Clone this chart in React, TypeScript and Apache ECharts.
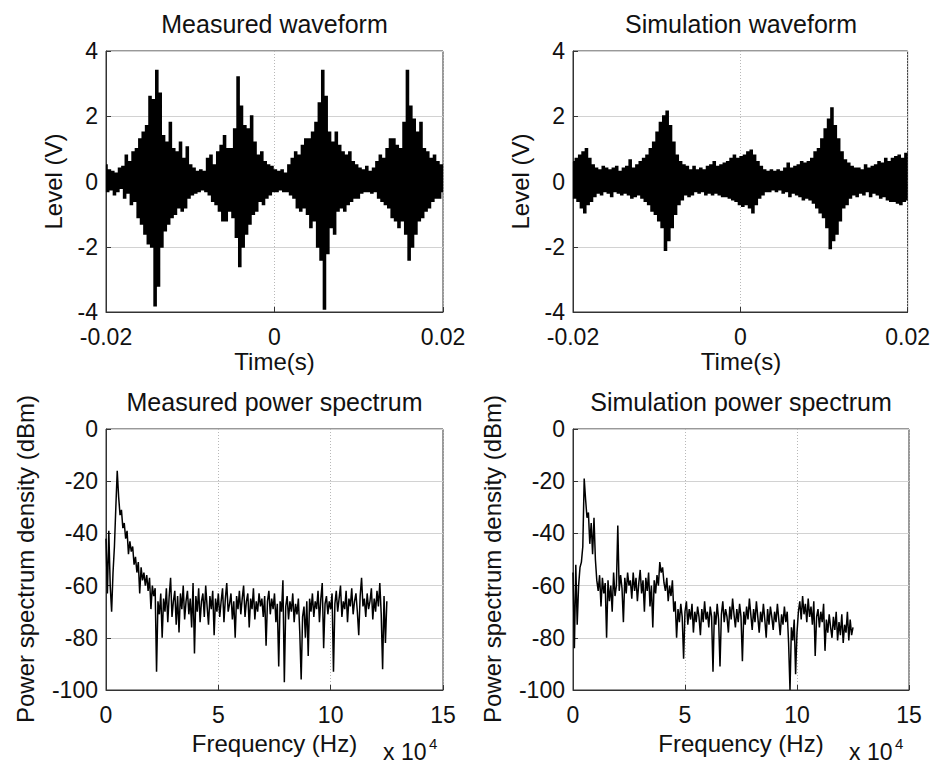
import React, { useEffect, useRef } from "react";
import * as echarts from "echarts";

// ---- Data ----
const titles = [
  "Measured waveform",
  "Simulation waveform",
  "Measured power spectrum",
  "Simulation power spectrum",
];

// Waveforms: samples from -0.02 s to 0.02 s, evenly spaced (V)
const waveTimeStart = -0.02;
const waveTimeEnd = 0.02;

const measuredWave = [
  0.5, -0.3, 0.35, -0.25, 0.3, -0.4, 0.25, -0.3, 0.4, -0.2,
  0.45, -0.5, 0.8, -0.35, 0.6, -0.7, 0.9, -0.6, 1.0, -1.1,
  1.3, -1.3, 1.5, -1.6, 1.7, -1.9, 2.6, -2.0, 2.5, -3.8,
  3.4, -3.2, 2.7, -2.0, 1.4, -1.5, 1.2, -1.3, 1.8, -1.1,
  1.0, -1.0, 0.9, -0.8, 1.2, -0.9, 0.7, -0.8, 1.05, -0.5,
  0.5, -0.4, 0.4, -0.35, 0.3, -0.3, 0.35, -0.25, 0.3, -0.3,
  0.7, -0.4, 0.8, -0.6, 0.5, -0.7, 0.9, -0.9, 1.1, -1.2,
  1.4, -1.2, 1.0, -0.9, 1.0, -1.1, 1.6, -1.7, 3.2, -2.6,
  2.3, -2.0, 1.7, -1.6, 1.6, -1.3, 2.0, -1.0, 1.2, -0.9,
  0.8, -0.6, 0.9, -0.7, 0.6, -0.5, 0.5, -0.4, 0.45, -0.3,
  0.35, -0.3, 0.3, -0.25, 0.35, -0.3, 0.25, -0.3, 0.5, -0.4,
  0.7, -0.5, 0.9, -0.8, 0.8, -0.9, 1.1, -0.8, 1.3, -1.0,
  1.3, -1.4, 1.5, -1.2, 1.8, -2.0, 2.4, -2.4, 3.4, -3.9,
  2.6, -2.2, 1.5, -1.4, 1.2, -1.6, 1.5, -0.9, 1.1, -0.8,
  0.9, -0.9, 0.8, -0.7, 0.9, -0.6, 0.6, -0.5, 0.5, -0.5,
  0.4, -0.35, 0.35, -0.3, 0.45, -0.3, 0.3, -0.35, 0.4, -0.3,
  0.6, -0.5, 0.8, -0.6, 0.7, -0.7, 1.0, -0.8, 1.3, -1.1,
  1.3, -1.2, 1.1, -1.4, 1.0, -1.2, 1.8, -1.6, 3.4, -2.4,
  2.3, -2.0, 1.9, -1.6, 1.5, -1.2, 1.8, -1.1, 1.0, -0.9,
  0.9, -0.8, 0.7, -0.6, 0.8, -0.5, 0.6, -0.5, 0.5, -0.3,
];

const simulationWave = [
  0.6, -0.5, 0.7, -0.6, 0.8, -0.8, 0.9, -0.95, 1.0, -0.7,
  0.7, -0.6, 0.5, -0.45, 0.4, -0.35, 0.35, -0.4, 0.45, -0.3,
  0.4, -0.35, 0.35, -0.45, 0.4, -0.3, 0.45, -0.35, 0.3, -0.4,
  0.4, -0.35, 0.45, -0.4, 0.65, -0.5, 0.4, -0.45, 0.5, -0.4,
  0.6, -0.5, 0.7, -0.6, 0.8, -0.7, 1.0, -0.9, 1.2, -1.0,
  1.5, -1.2, 1.8, -1.4, 2.0, -2.1, 2.15, -1.8, 1.7, -1.4,
  1.2, -1.0, 0.8, -0.7, 0.6, -0.55, 0.5, -0.4, 0.45, -0.45,
  0.35, -0.4, 0.45, -0.3, 0.35, -0.35, 0.4, -0.3, 0.35, -0.4,
  0.45, -0.35, 0.5, -0.4, 0.6, -0.35, 0.45, -0.4, 0.5, -0.45,
  0.55, -0.45, 0.6, -0.5, 0.7, -0.55, 0.8, -0.6, 0.7, -0.7,
  0.75, -0.75, 0.8, -0.7, 0.9, -0.8, 0.95, -0.95, 0.8, -0.7,
  0.6, -0.5, 0.45, -0.4, 0.35, -0.3, 0.3, -0.3, 0.35, -0.25,
  0.3, -0.3, 0.35, -0.25, 0.3, -0.35, 0.4, -0.3, 0.55, -0.45,
  0.4, -0.35, 0.45, -0.4, 0.5, -0.45, 0.6, -0.55, 0.55, -0.5,
  0.6, -0.55, 0.7, -0.65, 0.9, -0.8, 1.0, -0.95, 1.3, -1.1,
  1.6, -1.4, 1.9, -2.05, 2.25, -1.8, 1.7, -1.6, 1.3, -1.2,
  0.9, -0.8, 0.65, -0.7, 0.55, -0.5, 0.45, -0.4, 0.4, -0.45,
  0.4, -0.35, 0.35, -0.4, 0.5, -0.3, 0.4, -0.45, 0.45, -0.35,
  0.5, -0.4, 0.6, -0.5, 0.55, -0.45, 0.7, -0.55, 0.6, -0.6,
  0.7, -0.6, 0.75, -0.65, 0.8, -0.7, 0.7, -0.6, 0.85, -0.55,
];

// Spectra: samples every 0.0625 x 10^4 Hz from 0 (dBm)
const spectrumStep = 0.0625;

const measuredSpectrum = [
  -42, -63, -39, -60, -70, -55, -45, -30, -16, -26,
  -33, -31, -38, -36, -42, -39, -48, -43, -47, -45,
  -52, -49, -55, -51, -63, -53, -58, -55, -60, -56,
  -62, -57, -69, -60, -64, -61, -93, -66, -71, -63,
  -80, -65, -70, -61, -74, -64, -57, -72, -66, -62,
  -75, -64, -78, -63, -69, -60, -73, -66, -62, -71,
  -65, -76, -59, -86, -64, -70, -61, -74, -66, -63,
  -72, -60, -68, -75, -64, -69, -62, -79, -65, -70,
  -63, -72, -66, -61, -74, -65, -59, -70, -67, -63,
  -73, -66, -80, -64, -69, -62, -71, -65, -60, -72,
  -66, -63, -76, -65, -69, -61, -73, -66, -70, -63,
  -68, -65, -72, -64, -83, -66, -62, -71, -65, -69,
  -63, -74, -67, -91, -66, -70, -58, -97, -68, -64,
  -73, -66, -70, -63, -74, -67, -71, -65, -78, -96,
  -72, -68, -80, -66, -87, -65, -70, -63, -72, -66,
  -69, -62, -74, -65, -59, -84, -67, -64, -71, -66,
  -69, -63, -93, -67, -62, -70, -65, -60, -72, -66,
  -69, -62, -74, -65, -68, -61, -71, -66, -63, -70,
  -79, -64, -57, -68, -65, -72, -63, -69, -66, -61,
  -73, -65, -70, -62, -68, -59, -71, -92, -64, -82,
  -66,
];

const simulationSpectrum = [
  -55, -84, -52, -75, -60, -53, -51, -45, -19, -27,
  -34, -32, -44, -36, -48, -34, -50, -58, -62, -56,
  -68, -57, -63, -59, -80, -58, -66, -60, -70, -55,
  -64, -60, -37, -62, -56, -61, -74, -57, -63, -55,
  -60, -58, -65, -55, -62, -57, -66, -59, -54, -63,
  -58, -70, -57, -62, -55, -68, -60, -76, -58, -63,
  -56, -60, -51, -55, -53, -59, -62, -57, -66, -60,
  -64, -58, -70, -66, -80, -69, -74, -67, -72, -88,
  -70, -66, -75, -69, -73, -67, -78, -70, -74, -68,
  -72, -79, -69, -74, -66, -73, -70, -76, -68, -72,
  -93, -70, -75, -67, -73, -91, -71, -66, -74, -69,
  -72, -78, -68, -73, -65, -71, -76, -69, -74, -67,
  -72, -89, -70, -75, -68, -73, -65, -71, -77, -69,
  -74, -66, -72, -78, -70, -74, -67, -73, -80, -69,
  -75, -68, -72, -77, -70, -74, -67, -73, -79, -71,
  -75, -68, -74, -70, -82, -100, -76, -81, -73, -94,
  -78, -70, -66, -73, -64, -71, -67, -74, -65, -72,
  -68, -75, -66, -87, -72, -69, -76, -70, -74, -67,
  -85, -73, -78, -71, -76, -80, -72, -77, -70, -81,
  -74, -79, -71, -82, -75, -78, -70, -81, -73, -79,
  -76,
];

const waveYTicks = { min: -4, max: 4, interval: 2 };
const waveXTicks = { min: -0.02, max: 0.02, interval: 0.02 };
const specYTicks = { min: -100, max: 0, interval: 20 };
const specXTicks = { min: 0, max: 15, interval: 5 };

const axisLabels = {
  waveX: "Time(s)",
  waveY: "Level (V)",
  specX: "Frequency (Hz)",
  specY: "Power spectrum density (dBm)",
  specXExponentBase: "x 10",
  specXExponent: "4",
};

// ---- Layout / style ----
const FONT = "'Liberation Sans', Arial, Helvetica, sans-serif";
const grids = [
  { left: 106, top: 51, width: 337, height: 261 },
  { left: 573, top: 51, width: 336, height: 261 },
  { left: 106, top: 429, width: 337, height: 261 },
  { left: 573, top: 429, width: 336, height: 261 },
];

function fmtNum(v: number): string {
  if (Math.abs(v) < 1e-9) return "0";
  return String(parseFloat(v.toFixed(4)));
}

export default function App() {
  const ref = useRef<HTMLDivElement>(null);

  useEffect(() => {
    if (!ref.current) return;
    const chart = echarts.init(ref.current, undefined, { renderer: "svg" });

    const waveDt = (waveTimeEnd - waveTimeStart) / (measuredWave.length - 1);
    const waveSeriesData = (arr: number[]) =>
      arr.map((v, i) => [waveTimeStart + i * waveDt, v]);
    const specSeriesData = (arr: number[]) =>
      arr.map((v, i) => [i * spectrumStep, v]);

    const mkX = (gi: number, t: { min: number; max: number; interval: number }) => ({
      type: "value",
      gridIndex: gi,
      min: t.min,
      max: t.max,
      interval: t.interval,
      position: "bottom",
      axisLine: { show: true, onZero: false, lineStyle: { color: "#333", width: 1 } },
      axisTick: { show: true, inside: true, length: 5, lineStyle: { color: "#333" } },
      axisLabel: {
        color: "#111",
        fontSize: 23,
        lineHeight: 18,
        fontFamily: FONT,
        margin: 16,
        formatter: (v: number) => fmtNum(v),
      },
      splitLine: { show: true, lineStyle: { color: "#b8b8b8", type: [1, 2], width: 1 } },
    });
    const mkY = (gi: number, t: { min: number; max: number; interval: number }) => ({
      type: "value",
      gridIndex: gi,
      min: t.min,
      max: t.max,
      interval: t.interval,
      position: "left",
      axisLine: { show: true, onZero: false, lineStyle: { color: "#333", width: 1 } },
      axisTick: { show: true, inside: true, length: 5, lineStyle: { color: "#333" } },
      axisLabel: {
        color: "#111",
        fontSize: 23,
        lineHeight: 18,
        fontFamily: FONT,
        margin: 8,
        formatter: (v: number) => fmtNum(v),
      },
      splitLine: { show: true, lineStyle: { color: "#d2d2d2", width: 1 } },
    });

    const lineSeries = (
      gi: number,
      data: number[][],
      width: number,
      step: false | "middle"
    ) => ({
      type: "line",
      xAxisIndex: gi,
      yAxisIndex: gi,
      data,
      step,
      showSymbol: false,
      symbol: "none",
      silent: true,
      lineStyle: { color: "#000", width, join: "miter" },
      z: 3,
    });

    const textEl = (
      text: string,
      x: number,
      y: number,
      size: number,
      rotation = 0,
      align = "center"
    ) => ({
      type: "text",
      x,
      y,
      rotation,
      silent: true,
      style: {
        text,
        fill: "#111",
        font: `${size}px ${FONT}`,
        lineHeight: Math.round(size * 0.85),
        textAlign: align,
        textVerticalAlign: "middle",
      },
    });

    const centerX = (g: { left: number; width: number }) => g.left + g.width / 2;

    const graphics: any[] = [];
    grids.forEach((g, i) => {
      const titleY = i < 2 ? 24 : 402;
      graphics.push(textEl(titles[i], centerX(g), titleY, 25));
    });
    [0, 1].forEach((i) => {
      const g = grids[i];
      graphics.push(textEl(axisLabels.waveX, centerX(g), 361, 24));
      graphics.push(textEl(axisLabels.waveY, g.left - 53, g.top + g.height / 2, 24, Math.PI / 2));
    });
    [2, 3].forEach((i) => {
      const g = grids[i];
      graphics.push(textEl(axisLabels.specX, centerX(g), 743, 24));
      graphics.push(textEl(axisLabels.specY, g.left - 81, 559, 24, Math.PI / 2));
      graphics.push(textEl(axisLabels.specXExponentBase, g.left + g.width - 60, 752, 23, 0, "left"));
      graphics.push(textEl(axisLabels.specXExponent, g.left + g.width - 14, 743, 15, 0, "left"));
    });

    chart.setOption({
      animation: false,
      backgroundColor: "#fff",
      grid: grids.map((g) => ({
        ...g,
        show: true,
        borderColor: "#333",
        borderWidth: 1,
        backgroundColor: "transparent",
        containLabel: false,
      })),
      xAxis: [
        mkX(0, waveXTicks),
        mkX(1, waveXTicks),
        mkX(2, specXTicks),
        mkX(3, specXTicks),
      ],
      yAxis: [
        mkY(0, waveYTicks),
        mkY(1, waveYTicks),
        mkY(2, specYTicks),
        mkY(3, specYTicks),
      ],
      series: [
        lineSeries(0, waveSeriesData(measuredWave), 1.9, "middle"),
        lineSeries(1, waveSeriesData(simulationWave), 1.9, "middle"),
        lineSeries(2, specSeriesData(measuredSpectrum), 1.5, false),
        lineSeries(3, specSeriesData(simulationSpectrum), 1.5, false),
      ],
      graphic: graphics,
    });

    return () => chart.dispose();
  }, []);

  return (
    <div
      ref={ref}
      style={{ position: "fixed", left: 0, top: 0, width: 933, height: 765, background: "#fff" }}
    />
  );
}
